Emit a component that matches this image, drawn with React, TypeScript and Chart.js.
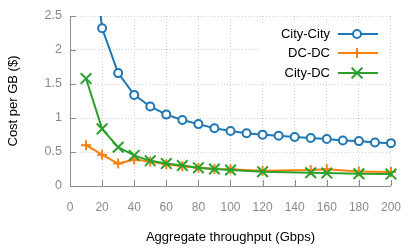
import React, { useEffect, useRef } from "react";
import { Chart, registerables } from "chart.js";
Chart.register(...registerables);

const cityCityX = [10, 20, 30, 40, 50, 60, 70, 80, 90, 100, 110, 120, 130, 140, 150, 160, 170, 180, 190, 200];
const cityCityY = [4.3, 2.32, 1.66, 1.34, 1.17, 1.05, 0.97, 0.91, 0.85, 0.81, 0.775, 0.755, 0.74, 0.72, 0.705, 0.69, 0.67, 0.66, 0.64, 0.63];
const dcDcX = [10, 20, 30, 40, 50, 60, 70, 80, 90, 100, 120, 150, 160, 180, 200];
const dcDcY = [0.6, 0.46, 0.33, 0.39, 0.36, 0.32, 0.29, 0.27, 0.25, 0.245, 0.225, 0.235, 0.245, 0.215, 0.205];
const cityDcX = [10, 20, 30, 40, 50, 60, 70, 80, 90, 100, 120, 150, 160, 180, 200];
const cityDcY = [1.58, 0.84, 0.57, 0.45, 0.37, 0.33, 0.3, 0.27, 0.25, 0.235, 0.21, 0.195, 0.19, 0.18, 0.175];

const seriesNames = ["City-City", "DC-DC", "City-DC"];
const seriesColors = ["#1f77b4", "#ff7f0e", "#2ca02c"];
const seriesMarkers = ["circle", "cross", "crossRot"];

const xTitle = "Aggregate throughput (Gbps)";
const yTitle = "Cost per GB ($)";

const FONT = "'Liberation Sans', Arial, Helvetica, sans-serif";

function pts(xs: number[], ys: number[]) {
  return xs.map((x, i) => ({ x, y: ys[i] }));
}

function drawMarker(ctx: CanvasRenderingContext2D, kind: string, x: number, y: number, color: string) {
  ctx.save();
  ctx.strokeStyle = color;
  ctx.lineWidth = 2;
  ctx.beginPath();
  if (kind === "circle") {
    ctx.fillStyle = "#fff";
    ctx.arc(x, y, 4, 0, Math.PI * 2);
    ctx.fill();
    ctx.stroke();
  } else if (kind === "cross") {
    ctx.moveTo(x - 5, y);
    ctx.lineTo(x + 5, y);
    ctx.moveTo(x, y - 5);
    ctx.lineTo(x, y + 5);
    ctx.stroke();
  } else {
    const d = 5.3;
    ctx.moveTo(x - d, y - d);
    ctx.lineTo(x + d, y + d);
    ctx.moveTo(x - d, y + d);
    ctx.lineTo(x + d, y - d);
    ctx.stroke();
  }
  ctx.restore();
}

const tickMarksPlugin = {
  id: "inwardTicks",
  beforeDatasetsDraw(chart: any) {
    const ctx = chart.ctx as CanvasRenderingContext2D;
    const xs = chart.scales.x;
    const ys = chart.scales.y;
    const area = chart.chartArea;
    ctx.save();
    ctx.strokeStyle = "#8c8c8c";
    ctx.lineWidth = 1;
    ctx.beginPath();
    xs.ticks.forEach((t: any) => {
      const px = Math.round(xs.getPixelForValue(t.value)) + 0.5;
      ctx.moveTo(px, area.bottom);
      ctx.lineTo(px, area.bottom - 6);
    });
    ys.ticks.forEach((t: any) => {
      const py = Math.round(ys.getPixelForValue(t.value)) + 0.5;
      ctx.moveTo(area.left, py);
      ctx.lineTo(area.left + 6, py);
    });
    ctx.stroke();
    ctx.restore();
  },
};

const legendPlugin = {
  id: "customLegend",
  afterDatasetsDraw(chart: any) {
    const ctx = chart.ctx as CanvasRenderingContext2D;
    ctx.save();
    ctx.fillStyle = "#fff";
    ctx.fillRect(258, 25, 130, 57);
    const rows = [34, 53, 73];
    ctx.font = `13px ${FONT}`;
    ctx.textAlign = "right";
    ctx.textBaseline = "middle";
    seriesNames.forEach((name, i) => {
      const y = rows[i];
      ctx.fillStyle = "#000";
      ctx.fillText(name, 330, y + 0.5);
      ctx.strokeStyle = seriesColors[i];
      ctx.lineWidth = 2;
      ctx.beginPath();
      ctx.moveTo(338, y);
      ctx.lineTo(378, y);
      ctx.stroke();
      drawMarker(ctx, seriesMarkers[i], 357, y, seriesColors[i]);
    });
    ctx.restore();
  },
};

export default function App() {
  const ref = useRef<HTMLCanvasElement>(null);
  useEffect(() => {
    document.body.style.margin = "0";
    const datasets = [
      { data: pts(cityCityX, cityCityY), radius: 4, bg: "#fff", order: 2 },
      { data: pts(dcDcX, dcDcY), radius: 5, bg: "rgba(0,0,0,0)", order: 1 },
      { data: pts(cityDcX, cityDcY), radius: 7.5, bg: "rgba(0,0,0,0)", order: 0 },
    ].map((d, i) => ({
      label: seriesNames[i],
      data: d.data,
      borderColor: seriesColors[i],
      backgroundColor: d.bg,
      pointBackgroundColor: d.bg,
      pointBorderColor: seriesColors[i],
      pointStyle: seriesMarkers[i] as any,
      pointRadius: d.radius,
      pointBorderWidth: 2,
      borderWidth: 2,
      tension: 0,
      fill: false,
      order: d.order,
      clip: { left: 0, top: 0, right: 10, bottom: 10 } as any,
    }));
    const chart = new Chart(ref.current!, {
      type: "line",
      data: { datasets },
      plugins: [tickMarksPlugin, legendPlugin],
      options: {
        responsive: false,
        animation: false,
        devicePixelRatio: 1,
        layout: { padding: { top: 16, right: 22, left: 0, bottom: 0 } },
        plugins: { legend: { display: false }, tooltip: { enabled: false } },
        scales: {
          x: {
            type: "linear",
            min: 0,
            max: 200,
            afterFit: (s: any) => {
              s.height = 63;
            },
            ticks: { stepSize: 20, color: "#8a8a8a", font: { family: FONT, size: 12 }, padding: 14 },
            grid: { color: "#cfcfcf", drawTicks: false, lineWidth: 1 },
            border: { display: true, color: "#8c8c8c", width: 1, dash: [1, 2] },
            title: {
              display: true,
              text: xTitle,
              color: "#000",
              font: { family: FONT, size: 13, lineHeight: 1 },
              padding: { top: 0, bottom: 5.5 },
            },
          },
          y: {
            type: "linear",
            min: 0,
            max: 2.5,
            afterFit: (s: any) => {
              s.width = 70;
            },
            ticks: {
              stepSize: 0.5,
              color: "#8a8a8a",
              font: { family: FONT, size: 12.5 },
              padding: 8,
              callback: (v: any) => String(Number(v)),
            },
            grid: { color: "#cfcfcf", drawTicks: false, lineWidth: 1 },
            border: { display: true, color: "#8c8c8c", width: 1, dash: [1, 2] },
            title: {
              display: true,
              text: yTitle,
              color: "#000",
              font: { family: FONT, size: 13, lineHeight: 1 },
              padding: { top: 7, bottom: 0 },
            },
          },
        },
      },
    } as any);
    return () => chart.destroy();
  }, []);
  return (
    <div style={{ position: "absolute", left: 0, top: 0, width: 415, height: 249, background: "#fff" }}>
      <canvas ref={ref} width={415} height={249} style={{ display: "block" }} />
    </div>
  );
}
